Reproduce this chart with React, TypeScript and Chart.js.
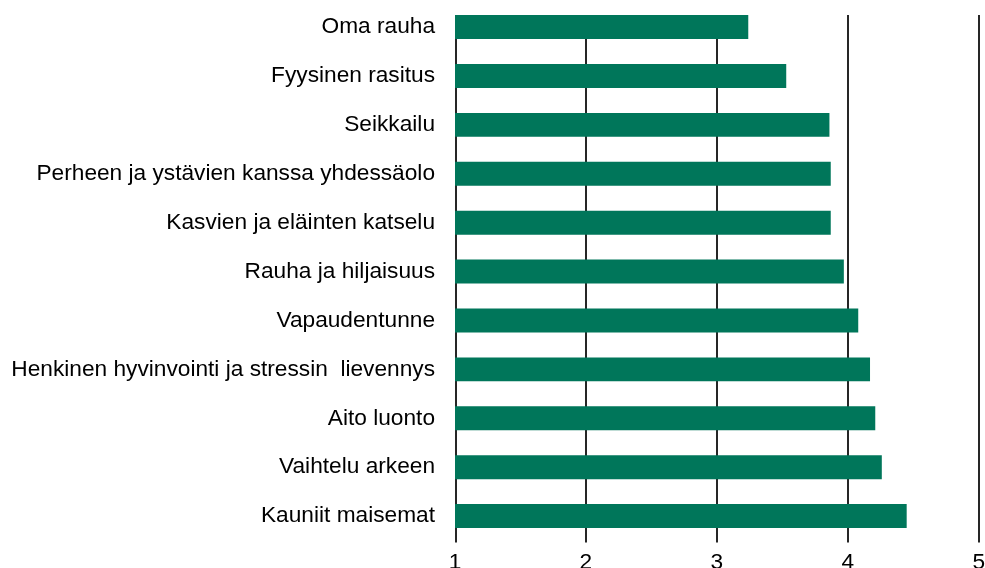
import React, { useEffect, useRef } from "react";
import { Chart, registerables } from "chart.js";

Chart.register(...registerables);

const categories = [
  "Oma rauha",
  "Fyysinen rasitus",
  "Seikkailu",
  "Perheen ja ystävien kanssa yhdessäolo",
  "Kasvien ja eläinten katselu",
  "Rauha ja hiljaisuus",
  "Vapaudentunne",
  "Henkinen hyvinvointi ja stressin  lievennys",
  "Aito luonto",
  "Vaihtelu arkeen",
  "Kauniit maisemat",
];

const values = [3.24, 3.53, 3.86, 3.87, 3.87, 3.97, 4.08, 4.17, 4.21, 4.26, 4.45];

const xTicks = [1, 2, 3, 4, 5];

const BAR_COLOR = "#00765A";
const LINE_COLOR = "#262626";
const FONT = "Liberation Sans, Arial, sans-serif";

const gridPlugin = {
  id: "customGrid",
  beforeDatasetsDraw(chart: any) {
    const meta = chart.getDatasetMeta(0);
    const first = meta.data[0] as any;
    if (!first) return;
    const top = first.y - first.height / 2;
    const bottom = chart.chartArea.bottom + 2;
    const xs = chart.scales.x;
    const ctx = chart.ctx;
    ctx.save();
    ctx.strokeStyle = LINE_COLOR;
    ctx.lineWidth = 2;
    xTicks.forEach((t) => {
      const px = Math.round(xs.getPixelForValue(t)) + (t === 1 ? 1 : 0);
      ctx.beginPath();
      ctx.moveTo(px, top);
      ctx.lineTo(px, bottom);
      ctx.stroke();
    });
    ctx.restore();
  },
};

export default function App() {
  const ref = useRef<HTMLCanvasElement | null>(null);

  useEffect(() => {
    document.body.style.margin = "0";
    const canvas = ref.current;
    if (!canvas) return;
    const chart = new Chart(canvas, {
      type: "bar",
      data: {
        labels: categories,
        datasets: [
          {
            data: values,
            backgroundColor: BAR_COLOR,
            borderWidth: 0,
            categoryPercentage: 1,
            barPercentage: 0.49,
          },
        ],
      },
      options: {
        indexAxis: "y",
        animation: false,
        responsive: false,
        devicePixelRatio: 1,
        layout: { padding: { top: 0, right: 0, left: 0, bottom: 0 } },
        plugins: {
          legend: { display: false },
          tooltip: { enabled: false },
          title: { display: false },
        },
        scales: {
          x: {
            min: 1,
            max: 5,
            grid: { display: false },
            border: { display: false },
            afterBuildTicks: (scale: any) => {
              scale.ticks = xTicks.map((v) => ({ value: v }));
            },
            afterFit: (scale: any) => {
              scale.height = 49.5;
            },
            ticks: {
              color: "#000",
              padding: 1,
              font: { family: FONT, size: 22.7 },
              maxRotation: 0,
            },
          },
          y: {
            grid: { display: false },
            border: { display: false },
            afterFit: (scale: any) => {
              scale.width = 455;
            },
            ticks: {
              color: "#000",
              padding: 12,
              autoSkip: false,
              font: { family: FONT, size: 22.7 },
            },
          },
        },
      },
      plugins: [gridPlugin],
    });
    return () => chart.destroy();
  }, []);

  return (
    <div style={{ width: 985, height: 568, overflow: "hidden", position: "relative" }}>
      <canvas
        ref={ref}
        width={986}
        height={613}
        style={{ display: "block", position: "absolute", left: 0, top: -23, width: 986, height: 613 }}
      />
    </div>
  );
}
